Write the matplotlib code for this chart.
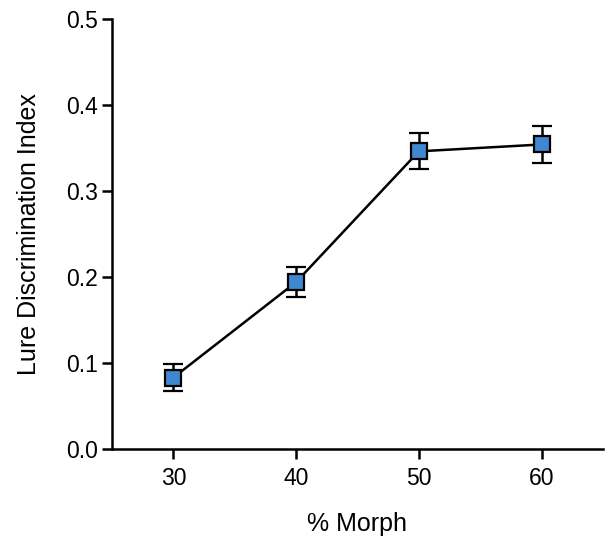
import matplotlib
matplotlib.use('Agg')
import matplotlib.pyplot as plt

plt.rcParams['font.family'] = ['Liberation Sans', 'DejaVu Sans']

# data
morph = [30, 40, 50, 60]
ldi = [0.083, 0.194, 0.346, 0.354]
sem = [0.016, 0.017, 0.021, 0.021]

fig = plt.figure(figsize=(6.14, 5.39), dpi=100)
ax = fig.add_axes([0.1824, 0.167, 0.7996, 0.798])

ax.errorbar(morph, ldi, yerr=sem, color='black', linewidth=1.8,
            elinewidth=1.8, capsize=7, capthick=1.8,
            marker='s', markersize=12, markerfacecolor='#3f88d0',
            markeredgecolor='black', markeredgewidth=1.6, zorder=3)

ax.set_xlim(25, 65)
ax.set_ylim(0, 0.5)
ax.set_xticks(morph)
ax.set_yticks([0.0, 0.1, 0.2, 0.3, 0.4, 0.5])
ax.set_yticklabels(['0.0', '0.1', '0.2', '0.3', '0.4', '0.5'])

for s in ['top', 'right']:
    ax.spines[s].set_visible(False)
for s in ['left', 'bottom']:
    ax.spines[s].set_linewidth(1.8)

ax.tick_params(axis='both', direction='out', length=7, width=1.8,
               labelsize=16.5, pad=3)
ax.tick_params(axis='x', pad=6)
ax.set_xlabel('% Morph', fontsize=18, labelpad=16)
ax.set_ylabel('Lure Discrimination Index', fontsize=18, labelpad=18)

fig.savefig('out.png', dpi=100)
